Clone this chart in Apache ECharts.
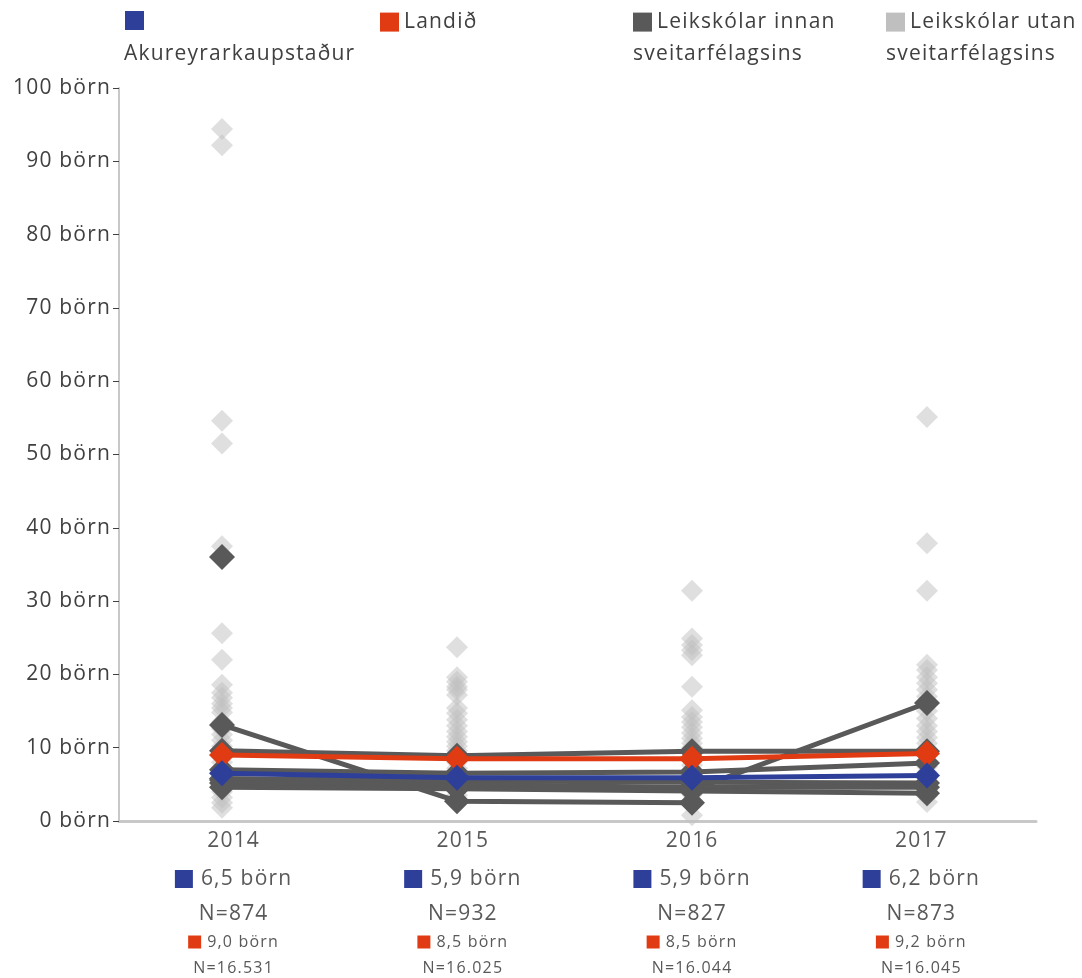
<!DOCTYPE html>
<html><head><meta charset="utf-8">
<script src="https://cdn.jsdelivr.net/npm/echarts@6/dist/echarts.min.js"></script>
<style>html,body{margin:0;padding:0;background:#fff}#c{width:1082px;height:978px}</style>
</head><body><div id="c"></div>
<script>
// light letter spacing, like the reference typeface
(function(){
  const P = CanvasRenderingContext2D.prototype;
  const LS = '1.2px';
  const ft = P.fillText, mt = P.measureText;
  P.fillText = function(){ this.letterSpacing = LS; return ft.apply(this, arguments); };
  P.measureText = function(){ this.letterSpacing = LS; return mt.apply(this, arguments); };
})();

// ---------- data ----------
const years = ['2014', '2015', '2016', '2017'];
const yTicks = [0, 10, 20, 30, 40, 50, 60, 70, 80, 90, 100];

const akureyri  = [6.5, 5.9, 5.9, 6.2];
const akureyriN = [874, 932, 827, 873];
const landid    = [9.0, 8.5, 8.5, 9.2];
const landidN   = [16531, 16025, 16044, 16045];

// Leikskólar innan sveitarfélagsins (one array per preschool)
const innan1 = [36.0, null, null, null];
const innan2 = [13.1, 2.7, 2.5, null];
const innan3 = [9.6, 8.9, 9.5, 9.5];
const innan4 = [5.6, 5.2, 4.2, 16.1];
const innan5 = [7.0, 6.5, 6.7, 7.9];
const innan6 = [5.8, 5.5, 5.3, 5.2];
const innan7 = [5.2, 4.9, 4.6, 4.6];
const innan8 = [4.6, 4.4, 4.1, 3.8];

// Leikskólar utan sveitarfélagsins (values per year)
const utan2014 = [94.4, 92.2, 54.6, 51.5, 37.5, 25.6, 22.0, 18.6, 17.5, 16.8, 16.0, 15.4, 14.8, 13.5, 12.6, 11.8, 11.0, 10.2, 9.5, 8.8, 8.0, 7.3, 6.6, 6.0, 5.4, 4.8, 4.0, 3.2, 2.5, 1.8];
const utan2015 = [23.7, 19.6, 19.0, 18.3, 17.9, 17.2, 15.4, 14.7, 13.8, 13.0, 12.2, 11.5, 10.8, 10.2, 9.6, 9.0, 8.0, 7.2, 6.5, 5.8, 5.0, 4.3, 3.5];
const utan2016 = [31.4, 24.9, 24.0, 23.3, 22.6, 18.3, 15.1, 14.2, 13.5, 12.8, 12.0, 11.3, 10.6, 10.0, 9.3, 8.5, 7.6, 6.8, 6.0, 5.2, 4.4, 3.6, 2.8, 0.8];
const utan2017 = [55.1, 37.9, 31.4, 21.3, 20.6, 19.6, 18.8, 17.9, 17.0, 16.0, 15.0, 14.0, 13.0, 12.2, 11.4, 10.6, 9.8, 9.0, 8.2, 7.4, 6.6, 5.8, 5.0, 4.2, 3.4, 2.6];

// ---------- styling ----------
const FONT = "'Open Sans', 'DejaVu Sans', sans-serif";
const BLUE = '#2E3F9A', RED = '#E03B12', DARK = '#595959', LIGHT = '#bfbfbf';
const TXT = '#404040', TXT2 = '#595959';
const N_AK = 'Akureyrarkaupstaður', N_LAND = 'Landið',
      N_IN = 'Leikskólar innan sveitarfélagsins', N_OUT = 'Leikskólar utan sveitarfélagsins';

const fmtB = v => v.toFixed(1).replace('.', ',') + ' börn';
const fmtN = v => 'N=' + String(v).replace(/\B(?=(\d{3})+(?!\d))/g, '.');

const chart = echarts.init(document.getElementById('c'), null, {renderer: 'canvas'});

const innanList = [innan1, innan2, innan3, innan4, innan5, innan6, innan7, innan8];
const utanList = [utan2014, utan2015, utan2016, utan2017];

const series = [];
series.push({
  name: N_OUT, type: 'scatter', xAxisIndex: 1, yAxisIndex: 1,
  symbol: 'diamond', symbolSize: 22, clip: false, z: 2,
  itemStyle: {color: LIGHT, opacity: 0.5},
  data: utanList.flatMap((arr, i) => arr.map(v => [i, v]))
});
innanList.forEach(d => series.push({
  name: N_IN, type: 'line', xAxisIndex: 1, yAxisIndex: 1, data: d,
  symbol: 'diamond', symbolSize: 26, showSymbol: true, showAllSymbol: true, z: 3,
  lineStyle: {color: DARK, width: 5}, itemStyle: {color: DARK}
}));
series.push({
  name: N_LAND, type: 'line', xAxisIndex: 1, yAxisIndex: 1, data: landid,
  symbol: 'diamond', symbolSize: 26, z: 4,
  lineStyle: {color: RED, width: 5}, itemStyle: {color: RED}
});
series.push({
  name: N_AK, type: 'line', xAxisIndex: 1, yAxisIndex: 1, data: akureyri,
  symbol: 'diamond', symbolSize: 26, z: 5,
  lineStyle: {color: BLUE, width: 5}, itemStyle: {color: BLUE}
});

const legendText = {fontSize: 21, color: TXT, fontFamily: FONT};
const firstLine = {[N_AK]: '', [N_LAND]: 'Landið', [N_IN]: 'Leikskólar innan', [N_OUT]: 'Leikskólar utan'};
const mkLegend = (name, left, extra) => ({
  left: left, top: 11, padding: 0, itemWidth: 19, itemHeight: 19, icon: 'rect', itemGap: 5,
  selectedMode: false, textStyle: legendText,
  formatter: n => firstLine[n],
  data: [Object.assign({name: name}, extra || {})]
});
const secondLine = (x, t) => ({
  type: 'text', x: x, y: 54,
  style: {text: t, font: '21px ' + FONT, fill: TXT, verticalAlign: 'middle', align: 'left'}
});

chart.setOption({
  animation: false,
  backgroundColor: '#fff',
  textStyle: {fontFamily: FONT},
  legend: [
    mkLegend(N_AK, 125),
    mkLegend(N_LAND, 380),
    mkLegend(N_IN, 633),
    mkLegend(N_OUT, 886, {itemStyle: {color: LIGHT, opacity: 1}})
  ],
  graphic: [
    secondLine(124, 'Akureyrarkaupstaður'),
    secondLine(633, 'sveitarfélagsins'),
    secondLine(886, 'sveitarfélagsins')
  ],
  grid: [
    {left: 119, top: 88, width: 917, height: 733},
    {left: 104.5, top: 88, width: 940, height: 733}
  ],
  xAxis: [
    {
      type: 'category', gridIndex: 0, data: years, boundaryGap: true,
      axisLine: {lineStyle: {color: '#c8c8c8', width: 3}},
      axisTick: {show: false},
      axisLabel: {
        margin: 2, interval: 0,
        formatter: (v, i) => '{y|' + v + '}\n{bs|}{b|' + fmtB(akureyri[i]) + '}\n{n|' + fmtN(akureyriN[i]) +
          '}\n{rs|}{r|' + fmtB(landid[i]) + '}\n{n2|' + fmtN(landidN[i]) + '}',
        rich: {
          y:  {fontSize: 21, lineHeight: 36, color: TXT2, fontFamily: FONT},
          bs: {width: 18, height: 18, lineHeight: 40, backgroundColor: BLUE, verticalAlign: 'middle'},
          b:  {fontSize: 21, lineHeight: 40, color: TXT2, fontFamily: FONT, padding: [0, 0, 0, 8]},
          n:  {fontSize: 21, lineHeight: 30, color: TXT2, fontFamily: FONT},
          rs: {width: 13, height: 13, lineHeight: 26, backgroundColor: RED, verticalAlign: 'middle'},
          r:  {fontSize: 16, lineHeight: 26, color: TXT2, fontFamily: FONT, padding: [0, 0, 0, 6]},
          n2: {fontSize: 16, lineHeight: 26, color: TXT2, fontFamily: FONT}
        }
      }
    },
    {type: 'category', gridIndex: 1, data: years, boundaryGap: true, show: false}
  ],
  yAxis: [
    {
      type: 'value', gridIndex: 0, min: yTicks[0], max: yTicks[yTicks.length - 1], interval: 10,
      splitLine: {show: false},
      axisLine: {show: true, lineStyle: {color: '#c8c8c8', width: 2}},
      axisTick: {show: true, length: 6, lineStyle: {color: TXT, width: 1}},
      axisLabel: {formatter: '{value} börn', fontSize: 21, color: TXT, fontFamily: FONT, margin: 8}
    },
    {type: 'value', gridIndex: 1, min: yTicks[0], max: yTicks[yTicks.length - 1], show: false, splitLine: {show: false}}
  ],
  series: series
});
</script></body></html>
